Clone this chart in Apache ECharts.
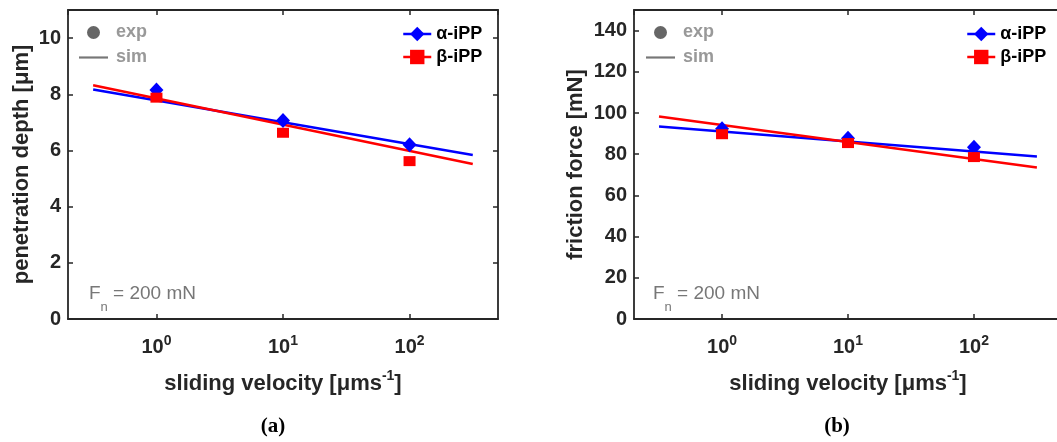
<!DOCTYPE html>
<html><head><meta charset="utf-8">
<script src="https://cdn.jsdelivr.net/npm/echarts@6/dist/echarts.min.js"></script>
<style>html,body{margin:0;padding:0;background:#fff}#c{width:1057px;height:442px}</style>
</head><body><div id="c"></div>
<script>
// ---- data ----
const velocities = [1, 10, 100];            // µm/s, experiments
const simVelocities = [0.316, 316];         // µm/s, simulation line ends
const alphaExpDepth = [8.15, 7.07, 6.2];
const betaExpDepth  = [7.88, 6.63, 5.62];
const alphaSimDepth = [8.17, 5.84];
const betaSimDepth  = [8.32, 5.52];
const alphaExpForce = [92.3, 87.7, 83.4];
const betaExpForce  = [89.7, 85.4, 78.6];
const alphaSimForce = [93.5, 78.9];
const betaSimForce  = [98.3, 73.5];
const xTickLabels = ['10^0', '10^1', '10^2'];
const depthTicks = [0, 2, 4, 6, 8, 10];
const forceTicks = [0, 20, 40, 60, 80, 100, 120, 140];

const FONT = '"Liberation Sans", Arial, Helvetica, sans-serif';
const AX = '#262626';
const BLUE = '#0000ff', RED = '#ff0000';

function pairs(xs, ys) { return xs.map((x, i) => [x, ys[i]]); }

function logFmt(v) {
  const l = Math.log10(v), e = Math.round(l);
  if (Math.abs(l - e) > 1e-6) return '';
  const lbl = xTickLabels.find(t => t === '10^' + e);
  if (!lbl) return '';
  return '{b|10}{s|' + e + '}';
}

function xAxisBottom(g) {
  return {
    type: 'log', logBase: 10, gridIndex: g, position: 'bottom', min: 0.2, max: 500,
    axisLine: { show: true, onZero: false, lineStyle: { color: AX, width: 1.8 } },
    axisTick: { show: true, inside: true, length: 5, lineStyle: { color: AX, width: 1.5 } },
    axisLabel: {
      show: true, margin: 15, formatter: logFmt, showMinLabel: false, showMaxLabel: false,
      rich: {
        b: { fontSize: 20, fontWeight: 'bold', color: AX, fontFamily: FONT, lineHeight: 22, verticalAlign: 'top', padding: [3, 0, 0, 0] },
        s: { fontSize: 14, fontWeight: 'bold', color: AX, fontFamily: FONT, lineHeight: 14, verticalAlign: 'top' }
      }
    },
    splitLine: { show: false }, minorTick: { show: false },
    name: '{t|sliding velocity [μms}{u|-1}{t|]}', nameLocation: 'middle', nameGap: 50,
    nameTextStyle: {
      rich: {
        t: { fontSize: 22, fontWeight: 'bold', color: AX, fontFamily: FONT, lineHeight: 24, verticalAlign: 'top', padding: [4, 0, 0, 0] },
        u: { fontSize: 14, fontWeight: 'bold', color: AX, fontFamily: FONT, lineHeight: 14, verticalAlign: 'top' }
      }
    }
  };
}
function xAxisTop(g) {
  return {
    type: 'log', logBase: 10, gridIndex: g, position: 'top', min: 0.2, max: 500,
    axisLine: { show: true, onZero: false, lineStyle: { color: AX, width: 1.8 } },
    axisTick: { show: true, inside: true, length: 5, lineStyle: { color: AX, width: 1.5 } },
    axisLabel: { show: false }, splitLine: { show: false }
  };
}
function yAxisLeft(g, max, interval, name, gap) {
  return {
    type: 'value', gridIndex: g, position: 'left', min: 0, max: max, interval: interval,
    axisLine: { show: true, onZero: false, lineStyle: { color: AX, width: 1.8 } },
    axisTick: { show: true, inside: true, length: 5, lineStyle: { color: AX, width: 1.5 } },
    axisLabel: { show: true, margin: 7, showMaxLabel: false, color: AX, fontSize: 20, fontWeight: 'bold', fontFamily: FONT },
    splitLine: { show: false },
    name: name, nameLocation: 'middle', nameGap: gap,
    nameTextStyle: { fontSize: 22, fontWeight: 'bold', color: AX, fontFamily: FONT }
  };
}
function yAxisRight(g, max, interval) {
  return {
    type: 'value', gridIndex: g, position: 'right', min: 0, max: max, interval: interval,
    axisLine: { show: true, onZero: false, lineStyle: { color: AX, width: 1.8 } },
    axisTick: { show: true, inside: true, length: 5, lineStyle: { color: AX, width: 1.5 } },
    axisLabel: { show: false }, splitLine: { show: false }
  };
}

function panelSeries(xi, yi, aSim, bSim, aExp, bExp) {
  return [
    { name: 'α-iPP', type: 'line', xAxisIndex: xi, yAxisIndex: yi, data: pairs(simVelocities, aSim),
      symbol: 'diamond', symbolSize: 14, showSymbol: false, color: BLUE, lineStyle: { color: BLUE, width: 2.5 }, z: 2 },
    { name: 'β-iPP', type: 'line', xAxisIndex: xi, yAxisIndex: yi, data: pairs(simVelocities, bSim),
      symbol: 'rect', symbolSize: 12, showSymbol: false, color: RED, lineStyle: { color: RED, width: 2.5 }, z: 2 },
    { name: 'α-iPP exp', type: 'scatter', xAxisIndex: xi, yAxisIndex: yi, data: pairs(velocities, aExp),
      symbol: 'diamond', symbolSize: [14, 15], itemStyle: { color: BLUE, opacity: 1 }, z: 3 },
    { name: 'β-iPP exp', type: 'scatter', xAxisIndex: xi, yAxisIndex: yi, data: pairs(velocities, bExp),
      symbol: 'rect', symbolSize: [12, 10], itemStyle: { color: RED, opacity: 1 }, z: 4 }
  ];
}

function legendPair(left, top) {
  return [
    { left: left[0], top: top[0], orient: 'vertical', padding: 0, itemGap: 4, itemWidth: 29, itemHeight: 13,
      selectedMode: false,
      data: [{ name: 'exp' }, { name: 'sim', icon: 'path://M0,0L40,0L40,3L0,3Z' }],
      itemStyle: { opacity: 1 },
      textStyle: { color: '#999', fontWeight: 'bold', fontSize: 18, fontFamily: FONT, lineHeight: 21, padding: [0, 0, 0, 3] } },
    { left: left[1], top: top[1], orient: 'vertical', padding: 0, itemGap: 3, itemWidth: 28, itemHeight: 18,
      selectedMode: false,
      data: ['α-iPP', 'β-iPP'],
      lineStyle: { width: 2.5 },
      textStyle: { color: '#000', fontWeight: 'bold', fontSize: 18, fontFamily: FONT, lineHeight: 20 } }
  ];
}

function fnText(left) {
  return {
    type: 'text', left: left, top: 284, silent: true,
    style: {
      text: '{f|F}{n|n}{f| = 200 mN}',
      rich: {
        f: { fontSize: 19, fontFamily: FONT, fill: '#777', lineHeight: 20, verticalAlign: 'top' },
        n: { fontSize: 13, fontFamily: FONT, fill: '#777', lineHeight: 13, verticalAlign: 'top', padding: [17, 0, 0, 0] }
      }
    }
  };
}

const chart = echarts.init(document.getElementById('c'), null, { renderer: 'canvas' });
chart.setOption({
  animation: false,
  backgroundColor: '#fff',
  grid: [
    { left: 68, top: 10, width: 430, height: 309, outerBoundsMode: 'none', containLabel: false },
    { left: 634, top: 10, width: 428, height: 309, outerBoundsMode: 'none', containLabel: false }
  ],
  xAxis: [xAxisBottom(0), xAxisTop(0), xAxisBottom(1), xAxisTop(1)],
  yAxis: [
    yAxisLeft(0, 11, 2, 'penetration depth [μm]', 35), yAxisRight(0, 11, 2),
    yAxisLeft(1, 150, 20, 'friction force [mN]', 47), yAxisRight(1, 150, 20)
  ],
  legend: [].concat(legendPair([79, 402], [22, 24]), legendPair([646, 966], [22, 24])),
  series: [].concat(
    panelSeries(0, 0, alphaSimDepth, betaSimDepth, alphaExpDepth, betaExpDepth),
    panelSeries(2, 2, alphaSimForce, betaSimForce, alphaExpForce, betaExpForce),
    [
      { name: 'exp', type: 'scatter', xAxisIndex: 0, yAxisIndex: 0, data: [], symbol: 'circle', itemStyle: { color: '#666', opacity: 1 } },
      { name: 'sim', type: 'line', xAxisIndex: 0, yAxisIndex: 0, data: [], symbol: 'none', color: '#777', lineStyle: { color: '#777', width: 2 }, itemStyle: { color: '#777' } }
    ]
  ),
  graphic: [
    fnText(89), fnText(653),
    { type: 'text', x: 273, y: 427, silent: true,
      style: { text: '(a)', font: 'bold 21px "Liberation Serif", "Times New Roman", serif', align: 'center', verticalAlign: 'middle', fill: '#000' } },
    { type: 'text', x: 837, y: 427, silent: true,
      style: { text: '(b)', font: 'bold 21px "Liberation Serif", "Times New Roman", serif', align: 'center', verticalAlign: 'middle', fill: '#000' } }
  ]
});
</script></body></html>
